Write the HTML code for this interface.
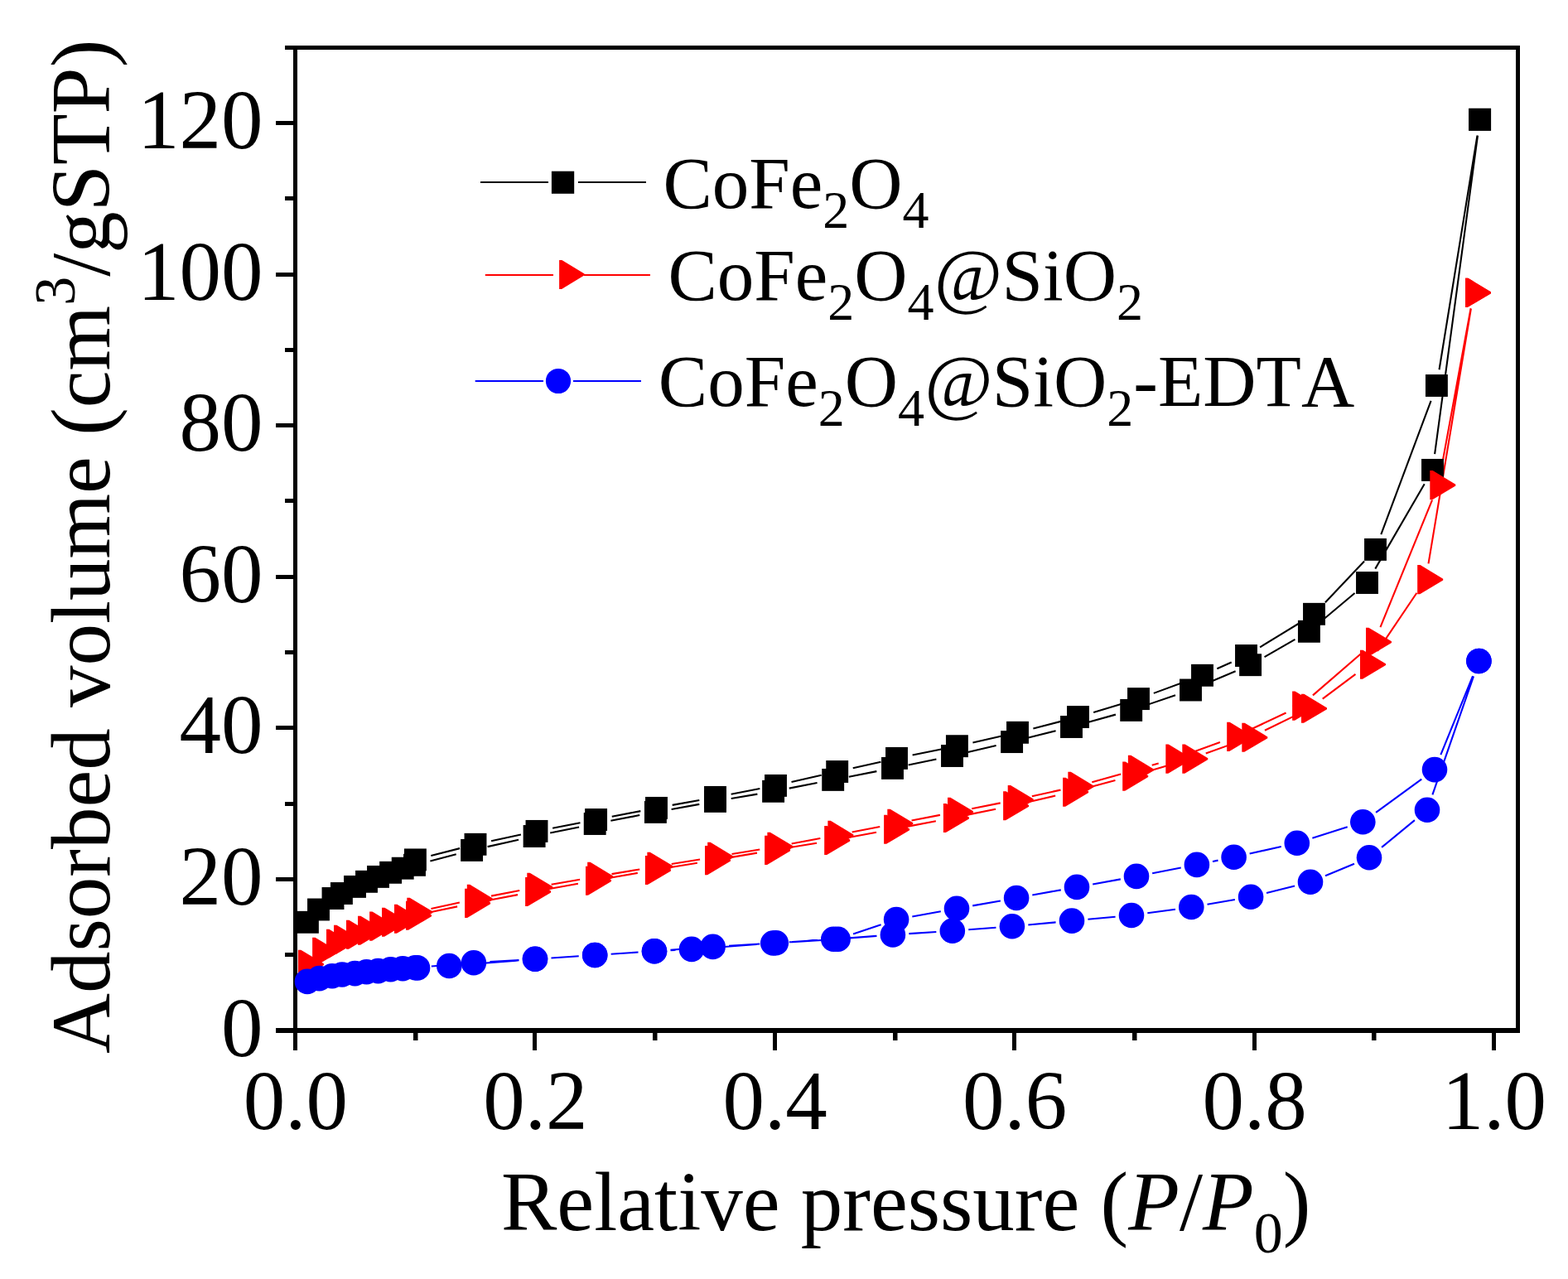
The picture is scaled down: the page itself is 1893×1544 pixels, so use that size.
<!DOCTYPE html>
<html><head><meta charset="utf-8"><title>Adsorption isotherms</title>
<style>svg text{font-kerning:none}html,body{margin:0;padding:0;background:#fff;width:1893px;height:1544px;overflow:hidden}body{position:relative}</style>
</head><body>
<svg width="1893" height="1544" viewBox="0 0 1893 1544" style="position:absolute;left:0;top:0">
<rect x="0" y="0" width="1893" height="1544" fill="#fff"/>
<rect x="344" y="55" width="1491" height="5" fill="#000"/>
<rect x="1830" y="55" width="5" height="1192" fill="#000"/>
<rect x="333" y="1241" width="1502" height="6" fill="#000"/>
<rect x="354" y="55" width="5" height="1213" fill="#000"/>
<rect x="333" y="1242" width="22" height="5" fill="#000"/>
<rect x="344" y="1150" width="11" height="5" fill="#000"/>
<rect x="333" y="1059" width="22" height="5" fill="#000"/>
<rect x="344" y="968" width="11" height="5" fill="#000"/>
<rect x="333" y="876" width="22" height="5" fill="#000"/>
<rect x="344" y="785" width="11" height="5" fill="#000"/>
<rect x="333" y="694" width="22" height="5" fill="#000"/>
<rect x="344" y="602" width="11" height="5" fill="#000"/>
<rect x="333" y="511" width="22" height="5" fill="#000"/>
<rect x="344" y="420" width="11" height="5" fill="#000"/>
<rect x="333" y="329" width="22" height="5" fill="#000"/>
<rect x="344" y="237" width="11" height="5" fill="#000"/>
<rect x="333" y="146" width="22" height="5" fill="#000"/>
<rect x="344" y="55" width="11" height="5" fill="#000"/>
<rect x="354" y="1244" width="5" height="24" fill="#000"/>
<rect x="499" y="1244" width="5.5" height="12" fill="#000"/>
<rect x="643" y="1244" width="5" height="24" fill="#000"/>
<rect x="788" y="1244" width="5.5" height="12" fill="#000"/>
<rect x="933" y="1244" width="5" height="24" fill="#000"/>
<rect x="1078" y="1244" width="5.5" height="12" fill="#000"/>
<rect x="1222" y="1244" width="5" height="24" fill="#000"/>
<rect x="1367" y="1244" width="5.5" height="12" fill="#000"/>
<rect x="1512" y="1244" width="5" height="24" fill="#000"/>
<rect x="1656" y="1244" width="5.5" height="12" fill="#000"/>
<rect x="1801" y="1244" width="5" height="24" fill="#000"/>
<path d="M519.38 1039.41L550.72 1031.29 M588.63 1022.14L626.07 1013.76 M664.20 1005.58L699.10 998.42 M737.35 990.81L772.25 984.09 M810.59 976.94L844.31 970.86 M882.72 964.08L914.38 958.62 M952.75 951.61L986.55 945.09 M1024.84 937.67L1058.36 931.13 M1096.60 923.45L1130.40 916.45 M1168.49 908.05L1202.61 900.05 M1240.51 890.84L1274.59 882.26 M1312.29 872.27L1346.91 862.63 M1384.16 851.13L1419.04 839.27 M1455.48 825.45L1491.62 810.25 M1526.54 793.04L1563.46 771.96 M1595.34 749.77L1635.56 716.03 M1660.29 686.64L1719.71 584.26 M1732.11 548.08L1783.99 163.62 M1783.47 163.55L1737.53 446.25 M1727.58 483.77L1667.32 645.13 M1647.07 677.54L1599.93 727.16 M1569.87 751.48L1521.13 781.32 M1486.71 799.49L1469.29 807.31 M1433.20 822.03L1392.80 836.87 M1355.82 849.20L1320.18 859.90 M1282.62 870.36L1247.38 879.44 M1209.47 888.57L1174.43 896.43 M1136.28 904.55L1101.62 911.55 M1063.47 919.67L1029.73 927.23 M991.69 935.83L955.51 944.07 M917.35 952.07L882.65 958.73 M844.32 965.91L811.68 971.89 M773.35 979.10L738.75 985.80 M700.46 993.22L667.14 999.68 M628.94 1007.50L593.06 1015.20 M555.11 1024.14L520.29 1033.06" stroke="#000000" stroke-width="2.1" fill="none"/>
<path d="M519.19 1101.30L552.11 1094.40 M590.36 1086.75L625.04 1080.15 M663.38 1073.00L697.92 1066.70 M736.30 1059.81L769.80 1053.89 M808.24 1047.32L841.86 1041.78 M880.33 1035.35L913.97 1029.65 M952.44 1023.22L986.06 1017.68 M1024.48 1010.98L1058.02 1004.82 M1096.35 997.62L1129.85 991.18 M1168.11 983.61L1202.09 976.69 M1240.20 968.42L1274.20 960.58 M1312.05 951.21L1346.45 942.09 M1384.02 931.65L1418.68 921.55 M1455.76 909.52L1491.04 896.88 M1526.92 881.75L1563.58 863.85 M1596.72 843.62L1636.48 813.88 M1663.00 786.03L1710.40 715.77 M1724.51 680.37L1775.89 372.53 M1775.57 372.48L1739.93 566.42 M1729.04 603.66L1666.46 757.14 M1644.35 787.96L1584.95 839.34 M1552.57 860.43L1508.93 881.07 M1472.96 896.03L1435.74 909.47 M1398.68 921.54L1390.72 923.86 M1353.21 934.51L1318.29 944.19 M1280.46 953.62L1245.84 961.28 M1207.69 969.36L1173.21 976.34 M1134.95 983.89L1100.55 990.51 M1062.26 997.95L1028.64 1004.55 M990.34 1011.95L955.66 1018.55 M917.27 1025.42L883.53 1031.08 M845.06 1037.45L810.74 1043.05 M772.27 1049.45L738.53 1055.15 M700.09 1061.77L665.61 1067.83 M627.26 1074.95L593.04 1081.65 M554.85 1089.55L520.45 1097.05" stroke="#FF0000" stroke-width="2.1" fill="none"/>
<path d="M561.74 1164.46L626.56 1159.34 M665.46 1156.51L698.74 1154.29 M737.66 1151.73L770.54 1149.57 M809.47 1147.26L815.53 1146.94 M854.44 1144.44L913.86 1139.96 M952.76 1137.25L986.84 1135.05 M1025.74 1132.33L1058.46 1129.87 M1097.36 1127.15L1130.34 1125.05 M1169.24 1122.32L1202.46 1119.78 M1241.32 1116.50L1274.58 1113.40 M1313.42 1109.82L1346.58 1106.78 M1385.32 1102.33L1418.98 1097.67 M1457.52 1091.71L1490.88 1085.99 M1529.02 1077.96L1563.08 1069.44 M1600.02 1057.24L1634.98 1042.76 M1668.07 1022.92L1707.93 990.18 M1729.39 959.38L1779.01 816.42 M1778.04 816.06L1739.36 911.04 M1716.24 940.59L1661.06 980.81 M1626.73 998.26L1584.37 1011.84 M1546.76 1022.02L1508.64 1030.48 M1470.50 1038.63L1464.00 1039.97 M1425.75 1047.58L1391.15 1054.22 M1352.81 1061.36L1319.19 1067.44 M1280.81 1074.35L1246.29 1080.55 M1207.90 1087.41L1174.20 1093.39 M1135.81 1100.27L1101.29 1106.53 M1063.62 1116.24L1030.08 1127.56 M992.14 1134.97L956.26 1137.13 M917.34 1139.48L880.06 1141.72 M841.16 1144.39L809.44 1146.81 M770.54 1149.57L737.66 1151.73 M698.74 1154.29L665.46 1156.51 M626.54 1158.98L591.36 1161.12 M552.47 1163.93L520.83 1166.57" stroke="#0000FF" stroke-width="2.1" fill="none"/>
<g><rect x="357.95" y="1099.85" width="26.9" height="26.9" fill="#000000"/><rect x="371.05" y="1084.55" width="26.9" height="26.9" fill="#000000"/><rect x="388.55" y="1071.05" width="26.9" height="26.9" fill="#000000"/><rect x="398.95" y="1065.05" width="26.9" height="26.9" fill="#000000"/><rect x="415.05" y="1056.95" width="26.9" height="26.9" fill="#000000"/><rect x="429.05" y="1050.85" width="26.9" height="26.9" fill="#000000"/><rect x="443.05" y="1044.95" width="26.9" height="26.9" fill="#000000"/><rect x="458.15" y="1039.85" width="26.9" height="26.9" fill="#000000"/><rect x="472.75" y="1034.75" width="26.9" height="26.9" fill="#000000"/><rect x="487.05" y="1030.85" width="26.9" height="26.9" fill="#000000"/><rect x="556.15" y="1012.95" width="26.9" height="26.9" fill="#000000"/><rect x="631.65" y="996.05" width="26.9" height="26.9" fill="#000000"/><rect x="704.75" y="981.05" width="26.9" height="26.9" fill="#000000"/><rect x="777.95" y="966.95" width="26.9" height="26.9" fill="#000000"/><rect x="850.05" y="953.95" width="26.9" height="26.9" fill="#000000"/><rect x="920.15" y="941.85" width="26.9" height="26.9" fill="#000000"/><rect x="992.25" y="927.95" width="26.9" height="26.9" fill="#000000"/><rect x="1064.05" y="913.95" width="26.9" height="26.9" fill="#000000"/><rect x="1136.05" y="899.05" width="26.9" height="26.9" fill="#000000"/><rect x="1208.15" y="882.15" width="26.9" height="26.9" fill="#000000"/><rect x="1280.05" y="864.05" width="26.9" height="26.9" fill="#000000"/><rect x="1352.25" y="843.95" width="26.9" height="26.9" fill="#000000"/><rect x="1424.05" y="819.55" width="26.9" height="26.9" fill="#000000"/><rect x="1496.15" y="789.25" width="26.9" height="26.9" fill="#000000"/><rect x="1566.95" y="748.85" width="26.9" height="26.9" fill="#000000"/><rect x="1637.05" y="690.05" width="26.9" height="26.9" fill="#000000"/><rect x="1716.05" y="553.95" width="26.9" height="26.9" fill="#000000"/><rect x="1773.15" y="130.85" width="26.9" height="26.9" fill="#000000"/><rect x="1773.15" y="130.85" width="26.9" height="26.9" fill="#000000"/><rect x="1720.95" y="452.05" width="26.9" height="26.9" fill="#000000"/><rect x="1647.05" y="649.95" width="26.9" height="26.9" fill="#000000"/><rect x="1573.05" y="727.85" width="26.9" height="26.9" fill="#000000"/><rect x="1491.05" y="778.05" width="26.9" height="26.9" fill="#000000"/><rect x="1438.05" y="801.85" width="26.9" height="26.9" fill="#000000"/><rect x="1361.05" y="830.15" width="26.9" height="26.9" fill="#000000"/><rect x="1288.05" y="852.05" width="26.9" height="26.9" fill="#000000"/><rect x="1215.05" y="870.85" width="26.9" height="26.9" fill="#000000"/><rect x="1141.95" y="887.25" width="26.9" height="26.9" fill="#000000"/><rect x="1069.05" y="901.95" width="26.9" height="26.9" fill="#000000"/><rect x="997.25" y="918.05" width="26.9" height="26.9" fill="#000000"/><rect x="923.05" y="934.95" width="26.9" height="26.9" fill="#000000"/><rect x="850.05" y="948.95" width="26.9" height="26.9" fill="#000000"/><rect x="779.05" y="961.95" width="26.9" height="26.9" fill="#000000"/><rect x="706.15" y="976.05" width="26.9" height="26.9" fill="#000000"/><rect x="634.55" y="989.95" width="26.9" height="26.9" fill="#000000"/><rect x="560.55" y="1005.85" width="26.9" height="26.9" fill="#000000"/><rect x="487.95" y="1024.45" width="26.9" height="26.9" fill="#000000"/></g>
<g><path d="M359.90 1146.65H363.30L390.90 1163.30V1165.10L362.90 1181.75H359.90Z" fill="#FF0000"/><path d="M377.10 1131.65H380.50L408.10 1148.30V1150.10L380.10 1166.75H377.10Z" fill="#FF0000"/><path d="M394.00 1121.75H397.40L425.00 1138.40V1140.20L397.00 1156.85H394.00Z" fill="#FF0000"/><path d="M403.00 1116.65H406.40L434.00 1133.30V1135.10L406.00 1151.75H403.00Z" fill="#FF0000"/><path d="M418.00 1110.65H421.40L449.00 1127.30V1129.10L421.00 1145.75H418.00Z" fill="#FF0000"/><path d="M432.00 1105.65H435.40L463.00 1122.30V1124.10L435.00 1140.75H432.00Z" fill="#FF0000"/><path d="M446.10 1100.55H449.50L477.10 1117.20V1119.00L449.10 1135.65H446.10Z" fill="#FF0000"/><path d="M461.00 1095.65H464.40L492.00 1112.30V1114.10L464.00 1130.75H461.00Z" fill="#FF0000"/><path d="M476.00 1091.75H479.40L507.00 1108.40V1110.20L479.00 1126.85H476.00Z" fill="#FF0000"/><path d="M490.00 1087.75H493.40L521.00 1104.40V1106.20L493.00 1122.85H490.00Z" fill="#FF0000"/><path d="M561.10 1072.85H564.50L592.10 1089.50V1091.30L564.10 1107.95H561.10Z" fill="#FF0000"/><path d="M634.10 1058.95H637.50L665.10 1075.60V1077.40L637.10 1094.05H634.10Z" fill="#FF0000"/><path d="M707.00 1045.65H710.40L738.00 1062.30V1064.10L710.00 1080.75H707.00Z" fill="#FF0000"/><path d="M778.90 1032.95H782.30L809.90 1049.60V1051.40L781.90 1068.05H778.90Z" fill="#FF0000"/><path d="M851.00 1021.05H854.40L882.00 1037.70V1039.50L854.00 1056.15H851.00Z" fill="#FF0000"/><path d="M923.10 1008.85H926.50L954.10 1025.50V1027.30L926.10 1043.95H923.10Z" fill="#FF0000"/><path d="M995.20 996.95H998.60L1026.20 1013.60V1015.40L998.20 1032.05H995.20Z" fill="#FF0000"/><path d="M1067.10 983.75H1070.50L1098.10 1000.40V1002.20L1070.10 1018.85H1067.10Z" fill="#FF0000"/><path d="M1138.90 969.95H1142.30L1169.90 986.60V988.40L1141.90 1005.05H1138.90Z" fill="#FF0000"/><path d="M1211.10 955.25H1214.50L1242.10 971.90V973.70L1214.10 990.35H1211.10Z" fill="#FF0000"/><path d="M1283.10 938.65H1286.50L1314.10 955.30V957.10L1286.10 973.75H1283.10Z" fill="#FF0000"/><path d="M1355.20 919.55H1358.60L1386.20 936.20V938.00L1358.20 954.65H1355.20Z" fill="#FF0000"/><path d="M1427.30 898.55H1430.70L1458.30 915.20V917.00L1430.30 933.65H1427.30Z" fill="#FF0000"/><path d="M1499.30 872.75H1502.70L1530.30 889.40V891.20L1502.30 907.85H1499.30Z" fill="#FF0000"/><path d="M1571.00 837.75H1574.40L1602.00 854.40V856.20L1574.00 872.85H1571.00Z" fill="#FF0000"/><path d="M1642.00 784.65H1645.40L1673.00 801.30V803.10L1645.00 819.75H1642.00Z" fill="#FF0000"/><path d="M1711.20 682.05H1714.60L1742.20 698.70V700.50L1714.20 717.15H1711.20Z" fill="#FF0000"/><path d="M1769.00 335.75H1772.40L1800.00 352.40V354.20L1772.00 370.85H1769.00Z" fill="#FF0000"/><path d="M1769.00 335.75H1772.40L1800.00 352.40V354.20L1772.00 370.85H1769.00Z" fill="#FF0000"/><path d="M1726.30 568.05H1729.70L1757.30 584.70V586.50L1729.30 603.15H1726.30Z" fill="#FF0000"/><path d="M1649.00 757.65H1652.40L1680.00 774.30V776.10L1652.00 792.75H1649.00Z" fill="#FF0000"/><path d="M1560.10 834.55H1563.50L1591.10 851.20V853.00L1563.10 869.65H1560.10Z" fill="#FF0000"/><path d="M1481.20 871.85H1484.60L1512.20 888.50V890.30L1484.20 906.95H1481.20Z" fill="#FF0000"/><path d="M1407.30 898.55H1410.70L1438.30 915.20V917.00L1410.30 933.65H1407.30Z" fill="#FF0000"/><path d="M1361.90 911.75H1365.30L1392.90 928.40V930.20L1364.90 946.85H1361.90Z" fill="#FF0000"/><path d="M1289.40 931.85H1292.80L1320.40 948.50V950.30L1292.40 966.95H1289.40Z" fill="#FF0000"/><path d="M1216.70 947.95H1220.10L1247.70 964.60V966.40L1219.70 983.05H1216.70Z" fill="#FF0000"/><path d="M1144.00 962.65H1147.40L1175.00 979.30V981.10L1147.00 997.75H1144.00Z" fill="#FF0000"/><path d="M1071.30 976.65H1074.70L1102.30 993.30V995.10L1074.30 1011.75H1071.30Z" fill="#FF0000"/><path d="M999.40 990.75H1002.80L1030.40 1007.40V1009.20L1002.40 1025.85H999.40Z" fill="#FF0000"/><path d="M926.40 1004.65H929.80L957.40 1021.30V1023.10L929.40 1039.75H926.40Z" fill="#FF0000"/><path d="M854.20 1016.75H857.60L885.20 1033.40V1035.20L857.20 1051.85H854.20Z" fill="#FF0000"/><path d="M781.40 1028.65H784.80L812.40 1045.30V1047.10L784.40 1063.75H781.40Z" fill="#FF0000"/><path d="M709.20 1040.85H712.60L740.20 1057.50V1059.30L712.20 1075.95H709.20Z" fill="#FF0000"/><path d="M636.30 1053.65H639.70L667.30 1070.30V1072.10L639.30 1088.75H636.30Z" fill="#FF0000"/><path d="M563.80 1067.85H567.20L594.80 1084.50V1086.30L566.80 1102.95H563.80Z" fill="#FF0000"/><path d="M491.30 1083.65H494.70L522.30 1100.30V1102.10L494.30 1118.75H491.30Z" fill="#FF0000"/></g>
<g><circle cx="371.00" cy="1184.90" r="15.3" fill="#0000FF"/><circle cx="385.50" cy="1181.10" r="15.3" fill="#0000FF"/><circle cx="401.00" cy="1178.20" r="15.3" fill="#0000FF"/><circle cx="413.00" cy="1176.50" r="15.3" fill="#0000FF"/><circle cx="428.50" cy="1175.10" r="15.3" fill="#0000FF"/><circle cx="442.50" cy="1173.30" r="15.3" fill="#0000FF"/><circle cx="456.50" cy="1172.10" r="15.3" fill="#0000FF"/><circle cx="471.60" cy="1170.20" r="15.3" fill="#0000FF"/><circle cx="486.20" cy="1169.20" r="15.3" fill="#0000FF"/><circle cx="504.00" cy="1168.40" r="15.3" fill="#0000FF"/><circle cx="542.30" cy="1166.00" r="15.3" fill="#0000FF"/><circle cx="646.00" cy="1157.80" r="15.3" fill="#0000FF"/><circle cx="718.20" cy="1153.00" r="15.3" fill="#0000FF"/><circle cx="790.00" cy="1148.30" r="15.3" fill="#0000FF"/><circle cx="835.00" cy="1145.90" r="15.3" fill="#0000FF"/><circle cx="933.30" cy="1138.50" r="15.3" fill="#0000FF"/><circle cx="1006.30" cy="1133.80" r="15.3" fill="#0000FF"/><circle cx="1077.90" cy="1128.40" r="15.3" fill="#0000FF"/><circle cx="1149.80" cy="1123.80" r="15.3" fill="#0000FF"/><circle cx="1221.90" cy="1118.30" r="15.3" fill="#0000FF"/><circle cx="1294.00" cy="1111.60" r="15.3" fill="#0000FF"/><circle cx="1366.00" cy="1105.00" r="15.3" fill="#0000FF"/><circle cx="1438.30" cy="1095.00" r="15.3" fill="#0000FF"/><circle cx="1510.10" cy="1082.70" r="15.3" fill="#0000FF"/><circle cx="1582.00" cy="1064.70" r="15.3" fill="#0000FF"/><circle cx="1653.00" cy="1035.30" r="15.3" fill="#0000FF"/><circle cx="1723.00" cy="977.80" r="15.3" fill="#0000FF"/><circle cx="1785.40" cy="798.00" r="15.3" fill="#0000FF"/><circle cx="1785.40" cy="798.00" r="15.3" fill="#0000FF"/><circle cx="1732.00" cy="929.10" r="15.3" fill="#0000FF"/><circle cx="1645.30" cy="992.30" r="15.3" fill="#0000FF"/><circle cx="1565.80" cy="1017.80" r="15.3" fill="#0000FF"/><circle cx="1489.60" cy="1034.70" r="15.3" fill="#0000FF"/><circle cx="1444.90" cy="1043.90" r="15.3" fill="#0000FF"/><circle cx="1372.00" cy="1057.90" r="15.3" fill="#0000FF"/><circle cx="1300.00" cy="1070.90" r="15.3" fill="#0000FF"/><circle cx="1227.10" cy="1084.00" r="15.3" fill="#0000FF"/><circle cx="1155.00" cy="1096.80" r="15.3" fill="#0000FF"/><circle cx="1082.10" cy="1110.00" r="15.3" fill="#0000FF"/><circle cx="1011.60" cy="1133.80" r="15.3" fill="#0000FF"/><circle cx="936.80" cy="1138.30" r="15.3" fill="#0000FF"/><circle cx="860.60" cy="1142.90" r="15.3" fill="#0000FF"/><circle cx="790.00" cy="1148.30" r="15.3" fill="#0000FF"/><circle cx="718.20" cy="1153.00" r="15.3" fill="#0000FF"/><circle cx="646.00" cy="1157.80" r="15.3" fill="#0000FF"/><circle cx="571.90" cy="1162.30" r="15.3" fill="#0000FF"/><circle cx="501.40" cy="1168.20" r="15.3" fill="#0000FF"/></g>
<g style="font-family:'Liberation Serif','Times New Roman',serif" font-size="101" fill="#000">
<text x="317.5" y="1274.60" text-anchor="end">0</text>
<text x="317.5" y="1092.02" text-anchor="end">20</text>
<text x="317.5" y="909.44" text-anchor="end">40</text>
<text x="317.5" y="726.86" text-anchor="end">60</text>
<text x="317.5" y="544.28" text-anchor="end">80</text>
<text x="317.5" y="361.70" text-anchor="end">100</text>
<text x="317.5" y="179.12" text-anchor="end">120</text>
<text x="356.90" y="1362.6" text-anchor="middle">0.0</text>
<text x="646.30" y="1362.6" text-anchor="middle">0.2</text>
<text x="935.70" y="1362.6" text-anchor="middle">0.4</text>
<text x="1225.10" y="1362.6" text-anchor="middle">0.6</text>
<text x="1514.50" y="1362.6" text-anchor="middle">0.8</text>
<text x="1803.90" y="1362.6" text-anchor="middle">1.0</text>
<text x="605" y="1485">Relative pressure (<tspan font-style="italic">P</tspan>/<tspan font-style="italic">P</tspan><tspan font-size="70" dy="27">0</tspan><tspan dy="-27">)</tspan></text>
<text transform="translate(132 1272) rotate(-90)">Adsorbed volume (cm<tspan font-size="70" dy="-42">3</tspan><tspan dy="42">/gSTP)</tspan></text>
</g>
<g style="font-family:'Liberation Serif','Times New Roman',serif" fill="#000">
<path d="M580 220H662M698 220H780" stroke="#000" stroke-width="2.2"/>
<rect x="665.9" y="206.7" width="27.3" height="27.1" fill="#000"/>
<text x="800.4" y="250.6" font-size="89">CoFe<tspan font-size="64" dy="24.5">2</tspan><tspan dy="-24.5">O</tspan><tspan font-size="64" dy="24.5">4</tspan></text>
<path d="M585.8 332H668M705 332H785" stroke="#FF0000" stroke-width="2.2"/>
<path d="M675.10 313.90H678.40L705.60 330.50V332.30L678.10 348.90H675.10Z" fill="#FF0000"/>
<text x="806.4" y="361.6" font-size="89">CoFe<tspan font-size="64" dy="24.5">2</tspan><tspan dy="-24.5">O</tspan><tspan font-size="64" dy="24.5">4</tspan><tspan dy="-24.5" font-style="italic">@</tspan><tspan>SiO</tspan><tspan font-size="64" dy="24.5">2</tspan></text>
<path d="M573.7 460H656M692 460H774" stroke="#0000FF" stroke-width="2.2"/>
<circle cx="674" cy="460" r="15.1" fill="#0000FF"/>
<text x="794.8" y="489.6" font-size="89">CoFe<tspan font-size="64" dy="24.5">2</tspan><tspan dy="-24.5">O</tspan><tspan font-size="64" dy="24.5">4</tspan><tspan dy="-24.5" font-style="italic">@</tspan><tspan>SiO</tspan><tspan font-size="64" dy="24.5">2</tspan><tspan dy="-24.5">-EDTA</tspan></text>
</g>
</svg>
</body></html>
